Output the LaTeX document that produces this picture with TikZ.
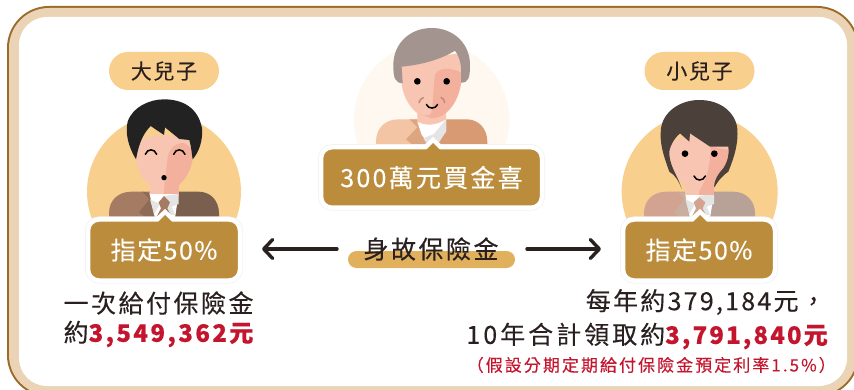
\documentclass[tikz,border=0pt]{standalone}
\usepackage{fontspec}
\usetikzlibrary{arrows.meta}
\setmainfont{Noto Sans CJK TC}
\newcommand{\txt}[3]{\fontsize{#1}{#1}\selectfont\addfontfeature{LetterSpace=#2,FakeBold=0.25}#3}
\newcommand{\btxt}[3]{{\fontsize{#1}{#1}\bfseries\selectfont\addfontfeature{LetterSpace=#2}#3}}
\definecolor{frameD}{HTML}{9C6A2A}
\definecolor{frameT}{HTML}{EBD3B6}
\definecolor{gold}{HTML}{BA8C3C}
\definecolor{peach}{HTML}{F9CF8E}
\definecolor{ink}{HTML}{2B2020}
\definecolor{redt}{HTML}{C4152E}
\definecolor{skin}{HTML}{F8C5B2}
\definecolor{skinD}{HTML}{F3B09C}
\definecolor{shad}{HTML}{E4E4E4}
\definecolor{aL}{HTML}{A67B63}\definecolor{aR}{HTML}{7A5E4E}\definecolor{aP}{HTML}{8D6B56}
\definecolor{bL}{HTML}{D3A391}\definecolor{bR}{HTML}{B8A196}\definecolor{bP}{HTML}{C9AD9E}
\definecolor{cL}{HTML}{F3C5A4}\definecolor{cR}{HTML}{D79A72}\definecolor{cP}{HTML}{DDA680}
\definecolor{hairA}{HTML}{222222}\definecolor{hairB}{HTML}{4C403B}\definecolor{hairC}{HTML}{A39490}
\definecolor{halo}{HTML}{FEF8F1}\definecolor{band}{HTML}{E1B05C}\definecolor{wrink}{HTML}{C08A78}
\tikzset{
  goldbox/.style={rectangle,rounded corners=11pt,fill=gold,draw=white,line width=4.5pt,
    preaction={draw=black!5,line width=6pt},text=white,inner sep=0pt,anchor=center},
  pill/.style={rectangle,rounded corners=19pt,fill=peach,text=ink,minimum width=110pt,minimum height=38pt,inner sep=0pt},
  plain/.style={inner sep=0pt,text=ink},
  arrowline/.style={draw=ink,line width=3.4pt,line cap=round,-{Straight Barb[length=9pt,width=19pt,line width=3.4pt,round]}},
  zoomed/.style={x=0.33333pt,y=-0.33333pt},
  eyeline/.style={draw=black,line width=1.5pt,line cap=round}
}
\newcommand{\notch}[2]{%
  \fill[white] (#1-13,#2+12)--(#1,#2)--(#1+13,#2+12)--cycle;
  \fill[gold] (#1-10,#2+16)--(#1,#2+6)--(#1+10,#2+16)--cycle;}
\begin{document}
\begin{tikzpicture}[x=1pt,y=-1pt]
\useasboundingbox (0,0) rectangle (854,390);
\fill[white] (0,0) rectangle (854,390);
\begin{scope}
\clip (0,0) rectangle (854,390);
\fill[frameD,rounded corners=42pt] (7,6) rectangle (859,397);
\fill[frameT,rounded corners=40pt] (9,8) rectangle (857,395);
\fill[white,rounded corners=28pt] (19,17) rectangle (847,386);
\end{scope}

% left man (coordinates of a 3x crop at 60,40)
\begin{scope}[shift={(60,40)},zoomed]
\fill[peach] (312,455) circle [radius=231];
\fill[aL] (147,570)--(147,520) .. controls (147,480) and (175,455) .. (215,455) -- (270,455) -- (312,570) -- cycle;
\fill[aR] (312,570)--(270,455)--(415,455) .. controls (450,455) and (477,480) .. (477,520) -- (477,570) -- cycle;
\fill[aP] (248,455)--(268,478)--(237,517)--(275,545)--(300,545)--(275,460)--cycle;
\fill[white] (268,458)--(356,458)--(345,535)--(285,535)--cycle;
\fill[shad] (356,462)--(356,492)--(335,500)--(345,525)--(320,525)--(312,468)--cycle;
\fill[shad] (270,478)--(300,492)--(282,522)--cycle;
\fill[aL] (296,487)--(312,468)--(330,487)--(322,505)--(335,530)--(290,530)--(303,505)--cycle;
\fill[skinD] (312,400) rectangle (356,462);
\fill[skin] (270,400) -- (270,462) -- (312,462) -- (312,400) -- cycle;
\fill[skin] (225,330) .. controls (225,400) and (265,450) .. (312,452) .. controls (360,450) and (400,400) .. (400,330) .. controls (400,270) and (225,270) .. (225,330) -- cycle;
\fill[skinD] (322,360) .. controls (325,325) and (350,305) .. (375,310) -- (400,330) .. controls (400,400) and (360,450) .. (312,452) -- cycle;
\fill[hairA] (228,358) .. controls (205,320) and (195,280) .. (203,245) .. controls (218,200) and (270,178) .. (312,178) .. controls (370,178) and (415,205) .. (426,265) .. controls (429,300) and (418,335) .. (398,358) .. controls (395,340) and (395,325) .. (388,300) -- (358,297) -- (315,262) -- (312,285) -- (272,258) .. controls (245,285) and (235,320) .. (228,358) -- cycle;
\draw[eyeline] (256,343) .. controls (262,325) and (284,325) .. (290,343);
\draw[eyeline] (341,343) .. controls (347,325) and (369,325) .. (375,343);
\fill[black] (312,413) circle [radius=8];
\end{scope}

% centre man (coordinates of a 3x crop at 310,10)
\begin{scope}[shift={(310,10)},zoomed]
\fill[halo] (365,330) circle [radius=233];
\fill[cL] (198,420)--(198,395) .. controls (198,355) and (225,328) .. (265,328) -- (322,328) -- (365,420) -- cycle;
\fill[cR] (365,420)--(322,328)--(470,328) .. controls (505,328) and (532,355) .. (532,395) -- (532,420) -- cycle;
\fill[cP] (298,328)--(322,352)--(288,388)--(320,415)--(360,415)--(322,328)--cycle;
\fill[white] (322,335)--(408,328)--(408,365)--(365,410)--(335,375)--cycle;
\fill[shad] (408,328)--(408,365)--(385,400)--(350,400)--(340,385)--(372,372)--cycle;
\fill[skin] (322,280) -- (322,335) .. controls (350,350) and (380,345) .. (408,328) -- (408,280) -- cycle;
\fill[skin] (275,150) -- (275,220) .. controls (280,275) and (320,325) .. (365,325) .. controls (410,325) and (445,275) .. (453,220) -- (453,130) -- cycle;
\fill[skinD] (374,200) .. controls (375,180) and (410,165) .. (453,188) -- (453,220) .. controls (445,275) and (410,325) .. (365,325) -- (330,312) .. controls (350,320) and (365,318) .. (366,300) -- cycle;
\fill[hairC] (278,220) .. controls (255,218) and (250,205) .. (250,165) .. controls (250,100) and (300,54) .. (365,54) .. controls (430,54) and (480,100) .. (480,165) .. controls (480,205) and (475,218) .. (453,218) -- (453,170) .. controls (450,150) and (445,135) .. (435,122) .. controls (390,150) and (330,165) .. (275,170) -- cycle;
\fill[black] (322,214) circle [radius=10];
\fill[black] (410,214) circle [radius=10];
\draw[eyeline] (349,283) .. controls (355,298) and (377,298) .. (383,283);
\draw[wrink,line width=1.5pt,line cap=round] (327,278) .. controls (329,270) and (333,265) .. (340,263);
\draw[wrink,line width=1.5pt,line cap=round] (393,262) .. controls (399,265) and (403,270) .. (404,278);
\end{scope}

% right man (coordinates of a 3x crop at 600,40)
\begin{scope}[shift={(600,40)},zoomed]
\fill[peach] (299,455) circle [radius=234];
\fill[bL] (132,570)--(132,520) .. controls (132,480) and (160,455) .. (200,455) -- (255,455) -- (298,570) -- cycle;
\fill[bR] (298,570)--(255,455)--(400,455) .. controls (435,455) and (465,480) .. (465,520) -- (465,570) -- cycle;
\fill[bP] (233,455)--(253,478)--(222,517)--(260,545)--(285,545)--(260,460)--cycle;
\fill[white] (255,458)--(342,458)--(330,535)--(270,535)--cycle;
\fill[shad] (342,462)--(342,492)--(320,500)--(330,525)--(305,525)--(298,468)--cycle;
\fill[shad] (256,478)--(285,492)--(268,522)--cycle;
\fill[bL] (281,487)--(298,472)--(316,487)--(308,505)--(320,530)--(276,530)--(288,505)--cycle;
\fill[skinD] (298,420) rectangle (342,465);
\fill[skin] (255,420) rectangle (298,465);
\fill[skin] (208,330) .. controls (208,400) and (250,450) .. (298,452) .. controls (345,450) and (388,400) .. (388,330) .. controls (388,270) and (208,270) .. (208,330) -- cycle;
\fill[skinD] (332,320) -- (388,330) .. controls (388,400) and (345,450) .. (298,452) .. controls (320,420) and (332,370) .. (332,320) -- cycle;
\fill[hairB] (245,447) .. controls (238,425) and (225,405) .. (208,395) .. controls (190,345) and (178,310) .. (183,265) .. controls (190,215) and (240,180) .. (298,180) .. controls (360,180) and (405,215) .. (412,265) .. controls (415,310) and (405,345) .. (385,395) .. controls (370,405) and (355,420) .. (343,443) .. controls (340,425) and (355,400) .. (370,385) .. controls (385,360) and (388,340) .. (385,320) -- (330,320) -- (270,280) -- (268,305) -- (240,280) .. controls (222,295) and (205,325) .. (208,345) .. controls (212,385) and (235,410) .. (245,447) -- cycle;
\fill[black] (255,341) circle [radius=10];
\fill[black] (343,341) circle [radius=10];
\draw[eyeline] (282,408) .. controls (288,424) and (310,424) .. (316,408);
\end{scope}

% labels above the sons
\node[pill] (son1) at (164,71) {\txt{21}{8}{大兒子}};
\node[pill] (son2) at (699.5,71) {\txt{21}{8}{小兒子}};

% gold boxes
\node[goldbox,minimum width=152pt,minimum height=61pt] (box1) at (164,250) {\txt{25}{6}{指定50\%}};
\notch{165}{209}
\node[goldbox,minimum width=221pt,minimum height=60.5pt] (box0) at (431.5,177.5) {\txt{25}{9}{300萬元買金喜}};
\notch{433}{137}
\node[goldbox,minimum width=152pt,minimum height=61pt] (box2) at (699,250) {\txt{25}{6}{指定50\%}};
\notch{700}{209}

% centre band and arrows
\fill[band,rounded corners=8.5pt] (348,251) rectangle (515,268);
\node[plain] (ins) at (431,249) {\txt{25}{10}{身故保險金}};
\coordinate (lt) at (337,249);
\coordinate (lh) at (262,249);
\coordinate (rt) at (527,249);
\coordinate (rh) at (601,249);
\draw[arrowline] (lt) -- (lh);
\draw[arrowline] (rt) -- (rh);

% texts
\node[plain,anchor=center] (t1) at (158.5,303) {\txt{25}{10}{一次給付保險金}};
\node[plain,anchor=center] (t2) at (158.5,334) {\txt{25}{9}{約}\textcolor{redt}{\btxt{24}{10}{3,549,362元}}};
\node[plain,anchor=east] (t3) at (826,302) {\txt{25}{9}{每年約379,184元，}};
\node[plain,anchor=east] (t4) at (828,336) {\txt{25}{12}{10年合計領取約}\textcolor{redt}{\btxt{24}{9}{3,791,840元}}};
\node[plain,anchor=east,text=redt] (t5) at (836,365) {\txt{17}{12}{（假設分期定期給付保險金預定利率1.5\%）}};
\end{tikzpicture}
\end{document}
